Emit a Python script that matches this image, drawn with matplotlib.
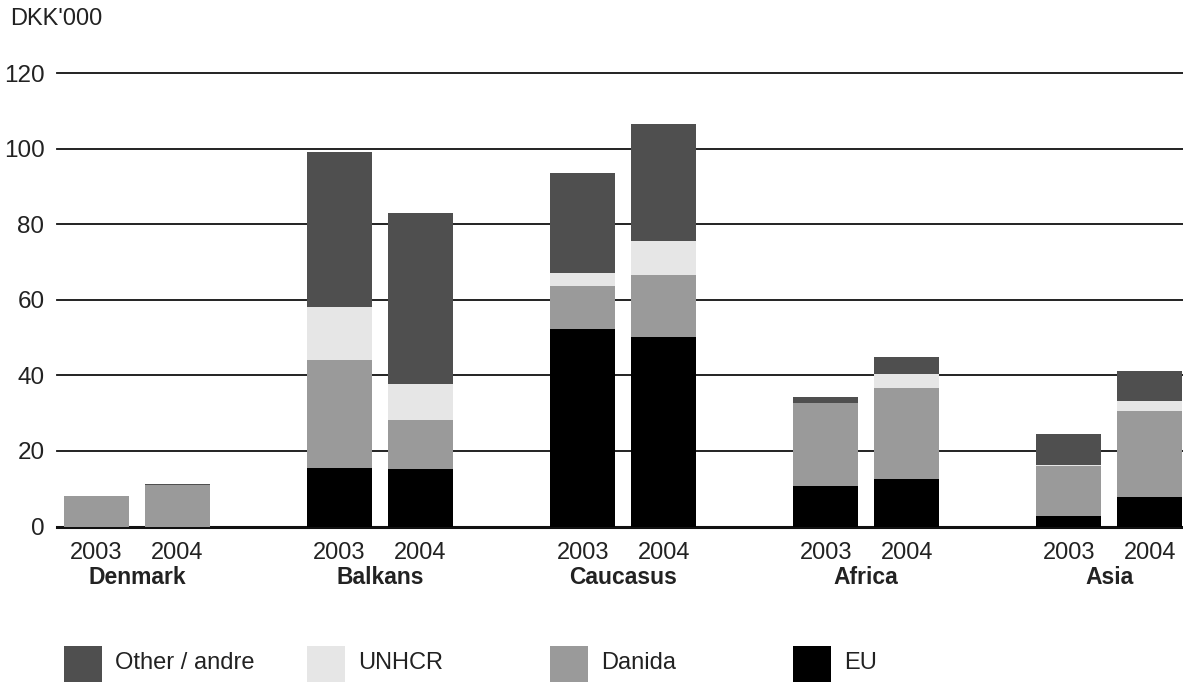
import matplotlib
matplotlib.use("Agg")
import matplotlib.pyplot as plt
import matplotlib.transforms as mtransforms
from matplotlib.patches import Rectangle
import numpy as np

plt.rcParams['font.family'] = ['Liberation Sans', 'DejaVu Sans']

regions = ["Denmark", "Balkans", "Caucasus", "Africa", "Asia"]
years = ["2003", "2004"]
series_names = ["EU", "Danida", "UNHCR", "Other / andre"]
# values per bar: order Denmark03, Denmark04, Balkans03, Balkans04, ...
eu     = [0.0, 0.0, 15.4, 15.1, 52.2, 50.1, 10.6, 12.5, 2.8, 7.9]
danida = [8.2, 11.0, 28.8, 13.2, 11.6, 16.4, 22.0, 24.3, 13.1, 22.8]
unhcr  = [0.0, 0.0, 13.9, 9.3, 3.2, 9.0, 0.0, 3.7, 0.3, 2.4]
other  = [0.0, 0.3, 41.0, 45.3, 26.5, 31.0, 1.8, 4.3, 8.4, 8.2]
yticks = [0, 20, 40, 60, 80, 100, 120]

colors = {"EU": "#000000", "Danida": "#9a9a9a", "UNHCR": "#e6e6e6", "Other / andre": "#4f4f4f"}
legend_order = ["Other / andre", "UNHCR", "Danida", "EU"]

W, H = 1183, 682
fig = plt.figure(figsize=(W / 100, H / 100), dpi=100)
ax = fig.add_axes([57 / W, (H - 526.5) / H, (W - 57) / W, (526.5 - 73.3) / H])

group_gap = 3
width = 0.8
pos = np.array([g * group_gap + i for g in range(len(regions)) for i in range(len(years))], dtype=float)

for y in yticks:
    ax.axhline(y, color="#111111", lw=2.2 if y == 0 else 1.3, zorder=1, clip_on=False)

bottom = np.zeros(len(pos))
for name, vals in zip(series_names, [eu, danida, unhcr, other]):
    vals = np.array(vals)
    ax.bar(pos, vals, width=width, bottom=bottom, color=colors[name], linewidth=0, zorder=2)
    bottom += vals

ax.set_xlim(-0.488, 13.41)
ax.set_ylim(0, 120)
for s in ax.spines.values():
    s.set_visible(False)
ax.set_yticks(yticks)
ax.set_yticklabels([str(v) for v in yticks], fontsize=17.5, color="#222222")
ax.tick_params(axis="y", length=0, pad=9)
ax.set_xticks(pos)
ax.set_xticklabels(years * len(regions), fontsize=17, color="#222222")
ax.tick_params(axis="x", length=0, pad=11)

centers = [g * group_gap + (len(years) - 1) / 2 for g in range(len(regions))]
trans = mtransforms.blended_transform_factory(ax.transData, fig.transFigure)
for c, r in zip(centers, regions):
    ax.text(c, (H - 578) / H, r, transform=trans, ha="center", va="center",
            fontsize=16.5, fontweight="bold", color="#222222")

fig.text(10 / W, (H - 19) / H, "DKK'000", fontsize=17, color="#222222", va="center", ha="left")

# legend aligned with group bar starts
sq_w = 38 / 81
for g, name in enumerate(legend_order):
    x0 = g * group_gap - width / 2
    rect = Rectangle((x0, 0), sq_w, (682 - 646) / H, transform=trans,
                     facecolor=colors[name], edgecolor="none", clip_on=False)
    fig.add_artist(rect)
    ax.text(x0 + sq_w + 13 / 81, (H - 663) / H, name, transform=trans, ha="left", va="center",
            fontsize=17, color="#222222")

fig.savefig("out.png", dpi=100)
